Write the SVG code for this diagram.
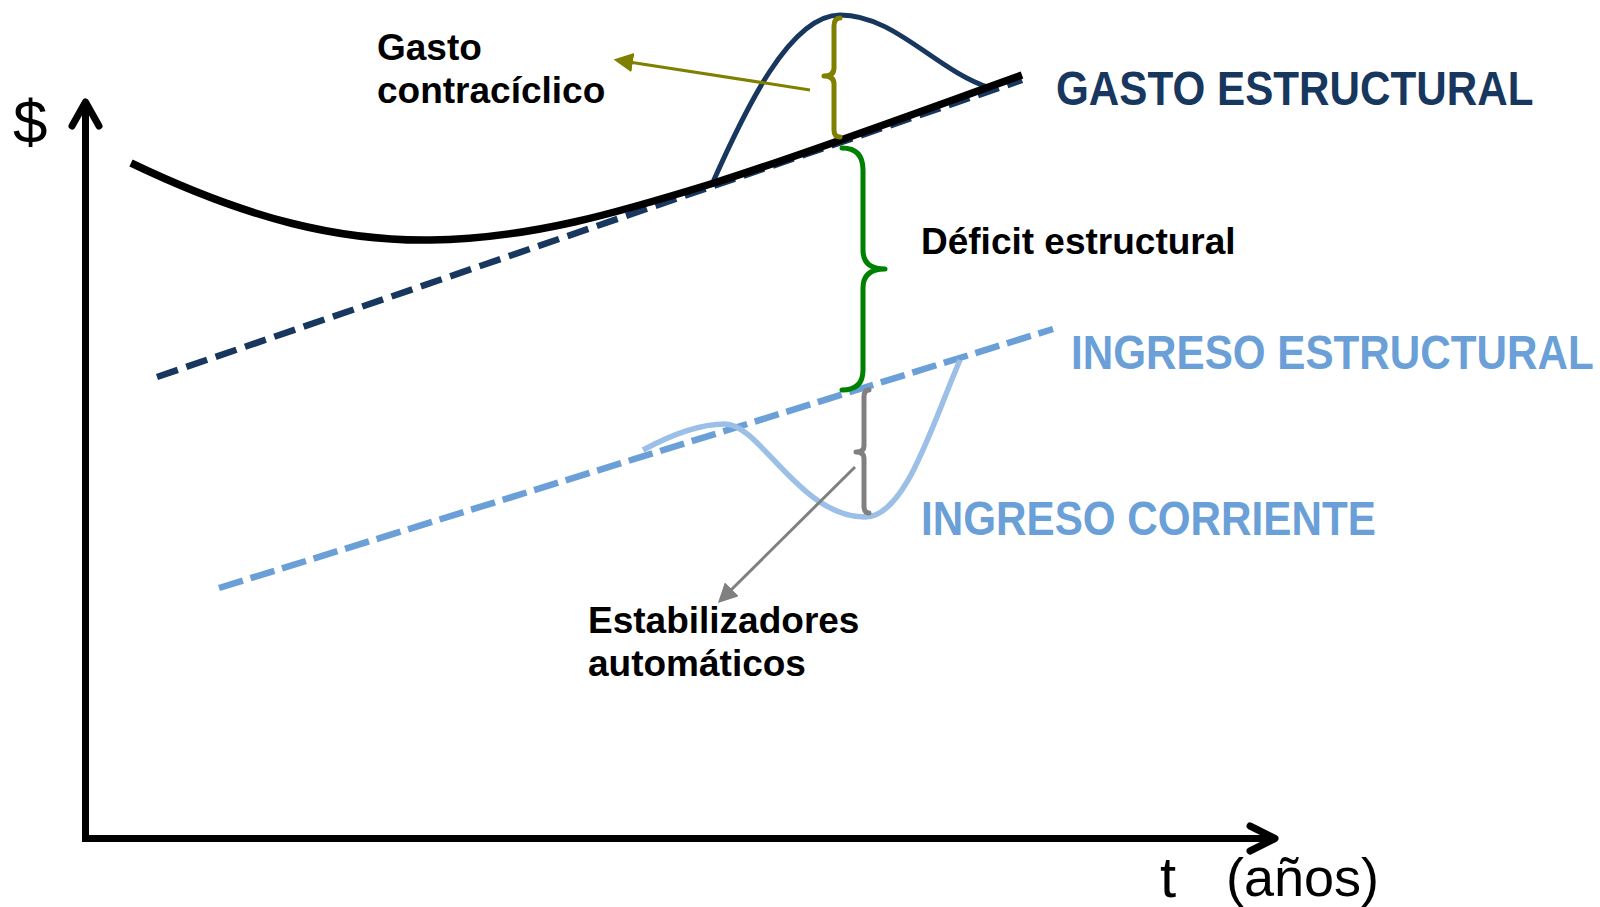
<svg xmlns="http://www.w3.org/2000/svg" width="1600" height="907" viewBox="0 0 1600 907">
<style>
  .ax{fill:none;stroke:#000;stroke-width:7}
  .lbl{font-family:"Liberation Sans",Arial,sans-serif;font-weight:bold;font-size:37px;fill:#000}
  .big{font-family:"Liberation Sans",Arial,sans-serif;font-weight:bold;font-size:42.2px}
  .reg{font-family:"Liberation Sans",Arial,sans-serif;fill:#000}
  .brace{fill:none;stroke-width:5;stroke-linecap:round;stroke-linejoin:round}
</style>
<defs>
  <marker id="olive" viewBox="0 0 10 10" refX="2" refY="5" markerWidth="6.5" markerHeight="6.5" orient="auto" markerUnits="strokeWidth">
    <path d="M0,0 L10,5 L0,10 z" fill="#808000"/>
  </marker>
  <marker id="grey" viewBox="0 0 10 10" refX="2" refY="5" markerWidth="6.5" markerHeight="6.5" orient="auto" markerUnits="strokeWidth">
    <path d="M0,0 L10,5 L0,10 z" fill="#808080"/>
  </marker>
</defs>
<rect width="1600" height="907" fill="#fff"/>

<g id="axes">
  <path class="ax" d="M85.5,104 L85.5,838.5 L1274,838.5" stroke-linejoin="miter"/>
  <path class="ax" d="M72,126 L85.5,102 L99,126" stroke-linecap="round" stroke-linejoin="round"/>
  <path class="ax" d="M1250,826 L1275,838.5 L1250,851" stroke-linecap="round" stroke-linejoin="round"/>
  <text class="reg" x="13" y="143" font-size="62">$</text>
  <text class="reg" x="1160" y="897" font-size="58">t</text>
  <text class="reg" x="1226" y="896" font-size="54">(años)</text>
</g>

<g id="curves">
  <path id="ingreso-estructural-line" d="M219,588 L1053,329" fill="none" stroke="#6A9FD8" stroke-width="6.5" stroke-dasharray="25 8"/>
  <path id="ingreso-corriente-curve" d="M643,450 C680,430 705,424 725,424 C760,424 800,517 865,517 C905,517 930,430 960,360" fill="none" stroke="#9BBFE6" stroke-width="5.5"/>
  <path id="gasto-estructural-line" d="M157,377 L1022,80" fill="none" stroke="#17375E" stroke-width="6.5" stroke-dasharray="22 9"/>
  <path id="gasto-corriente-curve" d="M713,182 C745,110 790,15 840,15 C895,15 935,70 990,88" fill="none" stroke="#17375E" stroke-width="5"/>
  <path id="gasto-total-curve" d="M131,163 C250,220 340,241 430,240 C530,239 620,212 714,183 C800,156 930,108 1022,75" fill="none" stroke="#000" stroke-width="7.5"/>
</g>

<g id="brace-contraciclico">
  <path class="brace" stroke="#808000" d="M840,18 Q834,18 834,26 L834,68 Q834,76 824,76 Q834,76 834,84 L834,130 Q834,137 840,137"/>
</g>
<g id="brace-deficit">
  <path class="brace" stroke="#008000" d="M842,148 Q863,148 863,170 L863,250 Q863,269 885,269 Q863,269 863,288 L863,370 Q863,390 842,390"/>
</g>
<g id="brace-estabilizadores">
  <path class="brace" stroke="#808080" d="M869,390 Q864,390 864,397 L864,446 Q864,452 856,452 Q864,452 864,458 L864,506 Q864,513 869,513"/>
</g>

<g id="connectors">
  <line x1="810" y1="90" x2="629" y2="62" stroke="#808000" stroke-width="3" marker-end="url(#olive)"/>
  <line x1="855" y1="467" x2="729" y2="592" stroke="#808080" stroke-width="3" marker-end="url(#grey)"/>
</g>

<g id="label-gasto-contraciclico">
  <text class="lbl" x="377" y="60">Gasto</text>
  <text class="lbl" x="377" y="103">contracíclico</text>
</g>
<g id="label-deficit">
  <text class="lbl" x="921" y="254">Déficit estructural</text>
</g>
<g id="label-estabilizadores">
  <text class="lbl" x="588" y="633">Estabilizadores</text>
  <text class="lbl" x="588" y="676">automáticos</text>
</g>
<g id="label-gasto-estructural" transform="translate(1056,105) scale(1,1.12)">
  <text class="big" x="0" y="0" fill="#17375E">GASTO ESTRUCTURAL</text>
</g>
<g id="label-ingreso-estructural" transform="translate(1071,369) scale(1,1.12)">
  <text class="big" x="0" y="0" fill="#6A9FD8">INGRESO ESTRUCTURAL</text>
</g>
<g id="label-ingreso-corriente" transform="translate(921,535) scale(1,1.12)">
  <text class="big" x="0" y="0" fill="#6A9FD8">INGRESO CORRIENTE</text>
</g>
</svg>
